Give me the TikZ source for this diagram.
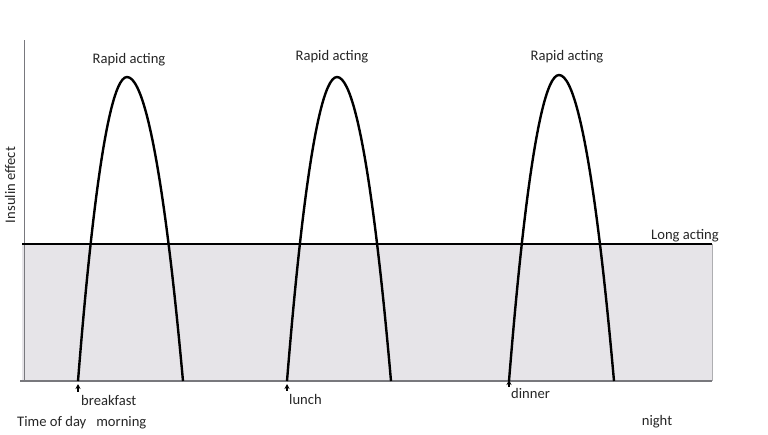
\documentclass[tikz,border=0pt]{standalone}
\usepackage{fontspec}
\setmainfont{Carlito}
\usetikzlibrary{arrows.meta}
\definecolor{bandfill}{RGB}{230,228,232}
\definecolor{axisgray}{RGB}{120,120,125}
\tikzset{
  lbl/.style={font=\fontsize{14.6}{17}\selectfont, inner sep=0pt, text=black!85},
  curve/.style={line width=2.4pt, black},
  mealarrow/.style={line width=1.6pt, {Stealth[length=5pt,width=5pt]}-},
}
\begin{document}
\begin{tikzpicture}[x=1pt,y=-1pt]
\useasboundingbox (0,0) rectangle (768,434);
% band
\fill[bandfill] (22,244) rectangle (712,381);
\draw[axisgray!60, line width=0.8pt] (712,244) -- (712,381);
% axes
\draw[axisgray, line width=0.8pt] (24,40) -- (24,381);
\draw[axisgray, line width=1.4pt] (20,381) -- (712,381);
% long acting line
\draw[line width=2.2pt] (22,244) -- (712,244);
% rapid curves
\draw[curve] (78,381) parabola bend (127,77) (183,381);
\draw[curve] (287,381) parabola bend (337,77) (391,381);
\draw[curve] (509,381) parabola bend (559,75) (614,381);
% meal arrows
\coordinate (b1) at (78,384); \coordinate (b1e) at (78,392);
\coordinate (b2) at (287,384); \coordinate (b2e) at (287,391);
\coordinate (b3) at (509,380); \coordinate (b3e) at (509,387);
\draw[mealarrow] (b1) -- (b1e);
\draw[mealarrow] (b2) -- (b2e);
\draw[mealarrow] (b3) -- (b3e);
% labels
\node[lbl] (r1) at (129,60) {Rapid acting};
\node[lbl] (r2) at (332,57) {Rapid acting};
\node[lbl] (r3) at (567,57) {Rapid acting};
\node[lbl] (la) at (685,236) {Long acting};
\node[lbl, anchor=west] (bf) at (81,400) {breakfast};
\node[lbl, anchor=west] (lu) at (289,399) {lunch};
\node[lbl, anchor=west] (di) at (511,393) {dinner};
\node[lbl, anchor=west] (td) at (17,423) {Time of day\hspace{10pt}morning};
\node[lbl] (ni) at (657,422) {night};
\node[lbl, rotate=90] (ie) at (10,185) {Insulin effect};
\end{tikzpicture}
\end{document}
